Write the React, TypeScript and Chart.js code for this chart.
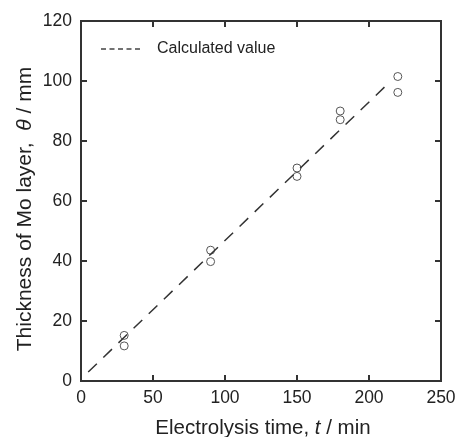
import React, { useEffect, useRef } from "react";
import { Chart, registerables } from "chart.js";

Chart.register(...registerables);

const timeMin = [30, 30, 90, 90, 150, 150, 180, 180, 220, 220];
const thicknessMeasured = [15.2, 11.7, 43.6, 39.8, 71.0, 68.2, 90.0, 87.1, 101.5, 96.2];
const calcTime = [5, 213];
const calcThickness = [3, 99];
const xTicks = [0, 50, 100, 150, 200, 250];
const yTicks = [0, 20, 40, 60, 80, 100, 120];
const legendLabel = "Calculated value";
const xTitleParts = [
  { t: "Electrolysis time, ", i: false },
  { t: "t", i: true },
  { t: " / min", i: false },
];
const yTitleParts = [
  { t: "Thickness of Mo layer,  ", i: false },
  { t: "θ", i: true },
  { t: " / mm", i: false },
];

const FONT = "'Liberation Sans', Arial, sans-serif";
const AXIS = "#333333";

function drawParts(ctx: CanvasRenderingContext2D, parts: { t: string; i: boolean }[], size: number) {
  let total = 0;
  const widths = parts.map((p) => {
    ctx.font = `${p.i ? "italic " : ""}${size}px ${FONT}`;
    const w = ctx.measureText(p.t).width;
    total += w;
    return w;
  });
  let x = -total / 2;
  parts.forEach((p, k) => {
    ctx.font = `${p.i ? "italic " : ""}${size}px ${FONT}`;
    ctx.fillText(p.t, x, 0);
    x += widths[k];
  });
}

const framePlugin = {
  id: "frame",
  afterDraw(chart: any) {
    const { ctx, chartArea: a, scales } = chart;
    const xs = scales.x;
    const ys = scales.y;
    ctx.save();
    ctx.strokeStyle = AXIS;
    ctx.lineWidth = 2;
    ctx.strokeRect(a.left, a.top, a.right - a.left, a.bottom - a.top);
    const tl = 6;
    ctx.beginPath();
    xTicks.forEach((v) => {
      const px = xs.getPixelForValue(v);
      ctx.moveTo(px, a.bottom);
      ctx.lineTo(px, a.bottom - tl);
      ctx.moveTo(px, a.top);
      ctx.lineTo(px, a.top + tl);
    });
    yTicks.forEach((v) => {
      const py = ys.getPixelForValue(v);
      ctx.moveTo(a.left, py);
      ctx.lineTo(a.left + tl, py);
      ctx.moveTo(a.right, py);
      ctx.lineTo(a.right - tl, py);
    });
    ctx.stroke();

    // legend
    ctx.strokeStyle = "#444444";
    ctx.lineWidth = 1.5;
    ctx.setLineDash([5, 3.5]);
    ctx.beginPath();
    ctx.moveTo(a.left + 20, a.top + 28);
    ctx.lineTo(a.left + 59, a.top + 28);
    ctx.stroke();
    ctx.setLineDash([]);
    ctx.fillStyle = "#222222";
    ctx.font = `16px ${FONT}`;
    ctx.textBaseline = "middle";
    ctx.textAlign = "left";
    ctx.fillText(legendLabel, a.left + 76, a.top + 28);

    // titles
    ctx.textBaseline = "alphabetic";
    ctx.save();
    ctx.translate((a.left + a.right) / 2 + 2, 434);
    drawParts(ctx, xTitleParts, 20.5);
    ctx.restore();
    ctx.save();
    ctx.translate(31, 209);
    ctx.rotate(-Math.PI / 2);
    drawParts(ctx, yTitleParts, 21);
    ctx.restore();
    ctx.restore();
  },
};

export default function App() {
  const ref = useRef<HTMLCanvasElement | null>(null);
  useEffect(() => {
    if (!ref.current) return;
    const chart = new Chart(ref.current, {
      type: "scatter",
      data: {
        datasets: [
          {
            label: legendLabel,
            data: calcTime.map((x, k) => ({ x, y: calcThickness[k] })),
            showLine: true,
            borderColor: "#333333",
            borderWidth: 1.5,
            borderDash: [12, 9],
            pointRadius: 0,
            fill: false,
          },
          {
            label: "Measured",
            data: timeMin.map((x, k) => ({ x, y: thicknessMeasured[k] })),
            showLine: false,
            pointStyle: "circle",
            pointRadius: 4,
            borderColor: "#555555",
            borderWidth: 1,
            backgroundColor: "rgba(255,255,255,0)",
          },
        ],
      },
      options: {
        responsive: false,
        animation: false,
        layout: { padding: { top: 21, right: 15, left: 0, bottom: 0 } },
        plugins: { legend: { display: false }, tooltip: { enabled: false } },
        scales: {
          x: {
            type: "linear",
            min: 0,
            max: 250,
            afterBuildTicks: (s: any) => {
              s.ticks = xTicks.map((v) => ({ value: v }));
            },
            afterFit: (s: any) => {
              s.height = 56;
              s.paddingLeft = 0;
              s.paddingRight = 0;
            },
            grid: { display: false, drawTicks: false },
            border: { display: false },
            ticks: { color: "#222222", font: { family: FONT, size: 17.5 }, padding: 7, maxRotation: 0 },
          },
          y: {
            type: "linear",
            min: 0,
            max: 120,
            afterBuildTicks: (s: any) => {
              s.ticks = yTicks.map((v) => ({ value: v }));
            },
            afterFit: (s: any) => {
              s.width = 81;
              s.paddingTop = 0;
              s.paddingBottom = 0;
            },
            grid: { display: false, drawTicks: false },
            border: { display: false },
            ticks: { color: "#222222", font: { family: FONT, size: 17.5 }, padding: 9 },
          },
        },
      },
      plugins: [framePlugin],
    } as any);
    return () => chart.destroy();
  }, []);
  return (
    <div style={{ position: "absolute", left: 0, top: 0, width: 456, height: 437, background: "#fff" }}>
      <canvas ref={ref} width={456} height={437} style={{ display: "block" }} />
    </div>
  );
}
